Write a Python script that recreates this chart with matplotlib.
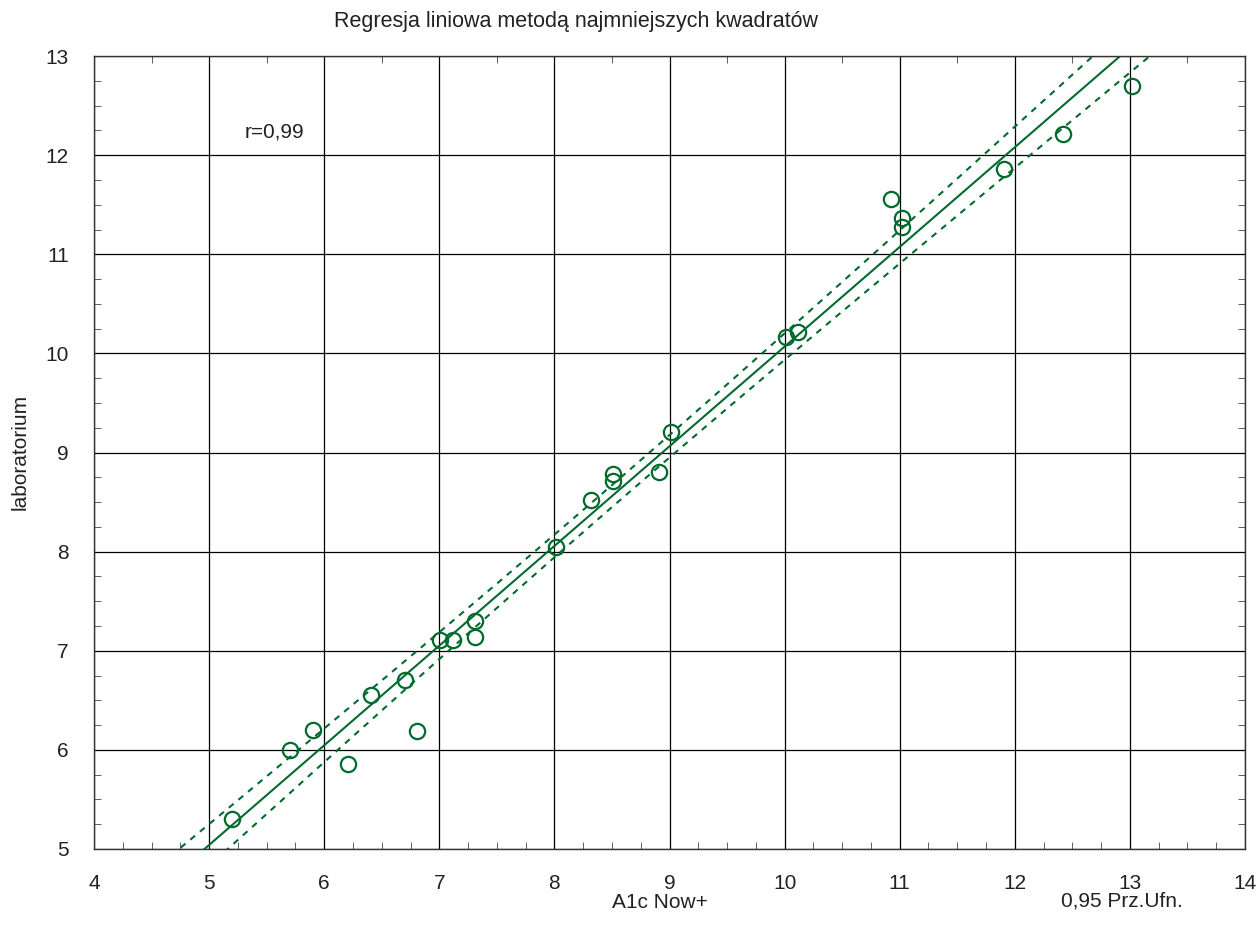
import numpy as np
import matplotlib
matplotlib.use("Agg")
from matplotlib import pyplot as plt
from matplotlib.ticker import MultipleLocator

# A1c Now+ vs laboratorium
a1c_now = [5.20, 5.70, 5.90, 6.21, 6.41, 6.70, 6.81, 7.01, 7.12, 7.31, 7.31,
           8.01, 8.32, 8.51, 8.51, 8.91, 9.01, 10.01, 10.12, 10.92, 11.02,
           11.02, 11.91, 12.42, 13.02]
lab = [5.30, 6.00, 6.20, 5.86, 6.55, 6.70, 6.19, 7.11, 7.11, 7.30, 7.14,
       8.05, 8.52, 8.78, 8.71, 8.80, 9.21, 10.17, 10.22, 11.56, 11.37,
       11.28, 11.86, 12.21, 12.70]

xticks = [4, 5, 6, 7, 8, 9, 10, 11, 12, 13, 14]
yticks = [5, 6, 7, 8, 9, 10, 11, 12, 13]

green = "#006b2d"
txt = "#222222"
plt.rcParams['font.family'] = ['Liberation Sans', 'DejaVu Sans']

x = np.array(a1c_now)
y = np.array(lab)
n = len(x)
b, a = np.polyfit(x, y, 1)
resid = y - (a + b * x)
s = np.sqrt(np.sum(resid ** 2) / (n - 2))
t = 2.069  # t(0.975, df=23)
xs = np.linspace(4, 14, 200)
fit = a + b * xs
se = s * np.sqrt(1.0 / n + (xs - x.mean()) ** 2 / np.sum((x - x.mean()) ** 2))

fig = plt.figure(figsize=(12.58, 9.35), dpi=100)
ax = fig.add_axes([0.0747, 0.092, 0.915, 0.848])

ax.plot(xs, fit, color=green, lw=1.5)
ax.plot(xs, fit + t * se, color=green, lw=1.5, ls=(0, (3, 3)))
ax.plot(xs, fit - t * se, color=green, lw=1.5, ls=(0, (3, 3)))
ax.plot(x, y, 'o', mfc='none', mec=green, mew=1.6, ms=11)

ax.set_xlim(4, 14)
ax.set_ylim(5, 13)
ax.set_xticks(xticks)
ax.set_yticks(yticks)
ax.xaxis.set_minor_locator(MultipleLocator(0.25))
ax.yaxis.set_minor_locator(MultipleLocator(0.25))
ax.grid(True, which='major', color='black', lw=0.9)
ax.tick_params(which='both', direction='in', top=False, right=True,
               labelsize=15, labelcolor=txt)
ax.tick_params(axis='x', pad=18)
ax.tick_params(axis='y', pad=18)
ax.tick_params(which='major', length=0)
ax.tick_params(which='minor', length=5, color='#444444')
for sp in ax.spines.values():
    sp.set_linewidth(1.0)
    sp.set_color('#333333')

top = ax.secondary_xaxis('top')
top.set_xticks([])
top.xaxis.set_minor_locator(MultipleLocator(0.5))
top.tick_params(which='minor', direction='in', length=5, color='#444444')
top.spines['top'].set_visible(False)

ax.text(5.57, 12.23, "r=0,99", fontsize=15, color=txt, ha='center', va='center')
fig.text(576 / 1258, 1 - 22 / 935, "Regresja liniowa metodą najmniejszych kwadratów",
         fontsize=15.5, color=txt, ha='center', va='center')
fig.text(660 / 1258, 1 - 903 / 935, "A1c Now+", fontsize=15, color=txt,
         ha='center', va='center')
fig.text(1122 / 1258, 1 - 901 / 935, "0,95 Prz.Ufn.", fontsize=15, color=txt,
         ha='center', va='center')
fig.text(20 / 1258, 1 - 452 / 935, "laboratorium", fontsize=15, color=txt,
         ha='center', va='center', rotation=90)

fig.savefig("out.png", dpi=100)
